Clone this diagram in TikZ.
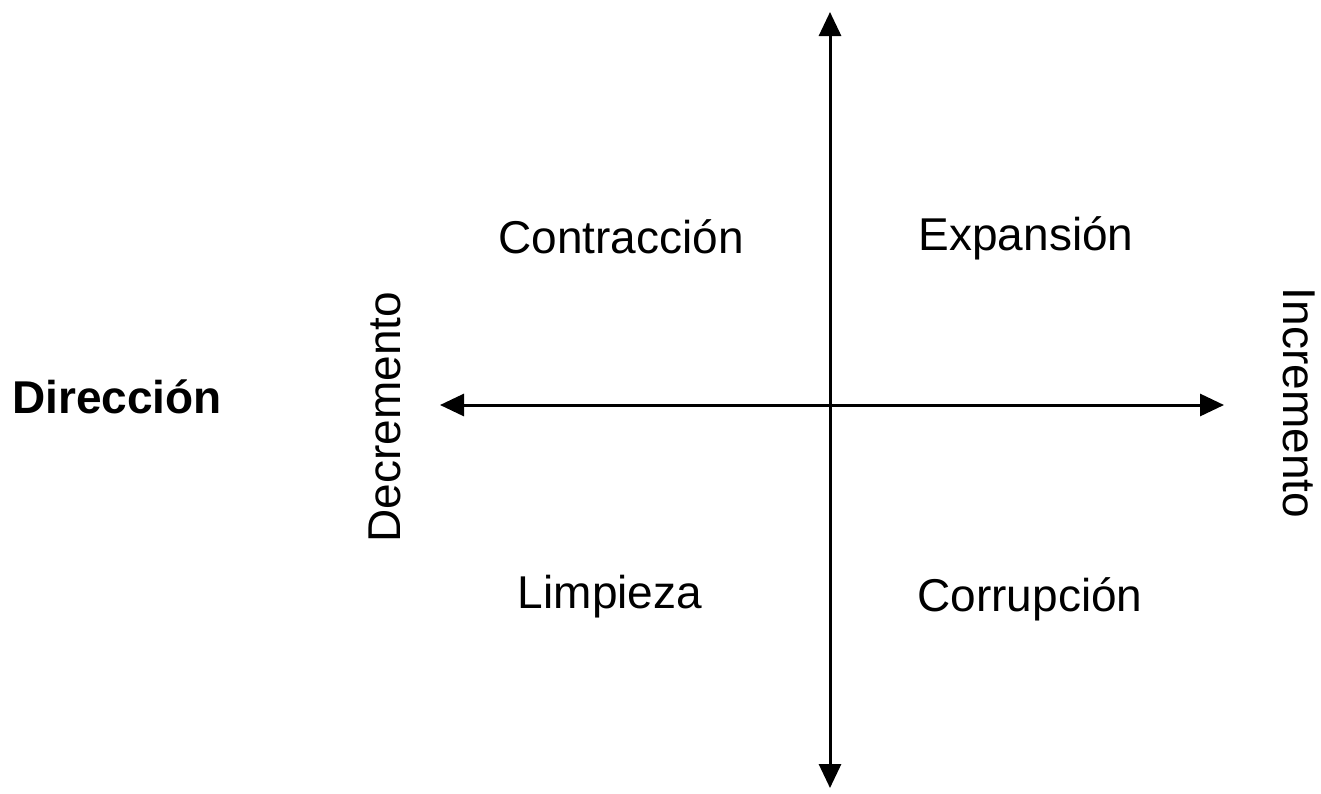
\documentclass[tikz,border=0pt]{standalone}
\usepackage{fontspec}
\setmainfont{Liberation Sans}
\usetikzlibrary{arrows.meta}
\begin{document}
\begin{tikzpicture}[x=1pt,y=-1pt,
  lbl/.style={font=\fontsize{46}{55}\selectfont, inner sep=0pt, anchor=base},
  ax/.style={line width=3pt, {Triangle[width=22pt,length=24pt]}-{Triangle[width=22pt,length=24pt]}}]
\useasboundingbox (0,0) rectangle (1321,793);
\coordinate (top) at (830,12);
\coordinate (bot) at (830,788);
\coordinate (left) at (440,405);
\coordinate (right) at (1224,405);
\draw[ax] (bot) -- (top);
\draw[ax] (left) -- (right);
\node[lbl] (c) at (621,253) {Contracción};
\node[lbl] (e) at (1026,250) {Expansión};
\node[lbl] (l) at (610,608) {Limpieza};
\node[lbl] (co) at (1030,611) {Corrupción};
\node[lbl, font=\fontsize{46}{55}\selectfont\bfseries] (d) at (117,413) {Dirección};
\node[lbl, anchor=center, rotate=90] (dec) at (385,417) {Decremento};
\node[lbl, anchor=center, rotate=-90] (inc) at (1299,403) {Incremento};
\end{tikzpicture}
\end{document}
